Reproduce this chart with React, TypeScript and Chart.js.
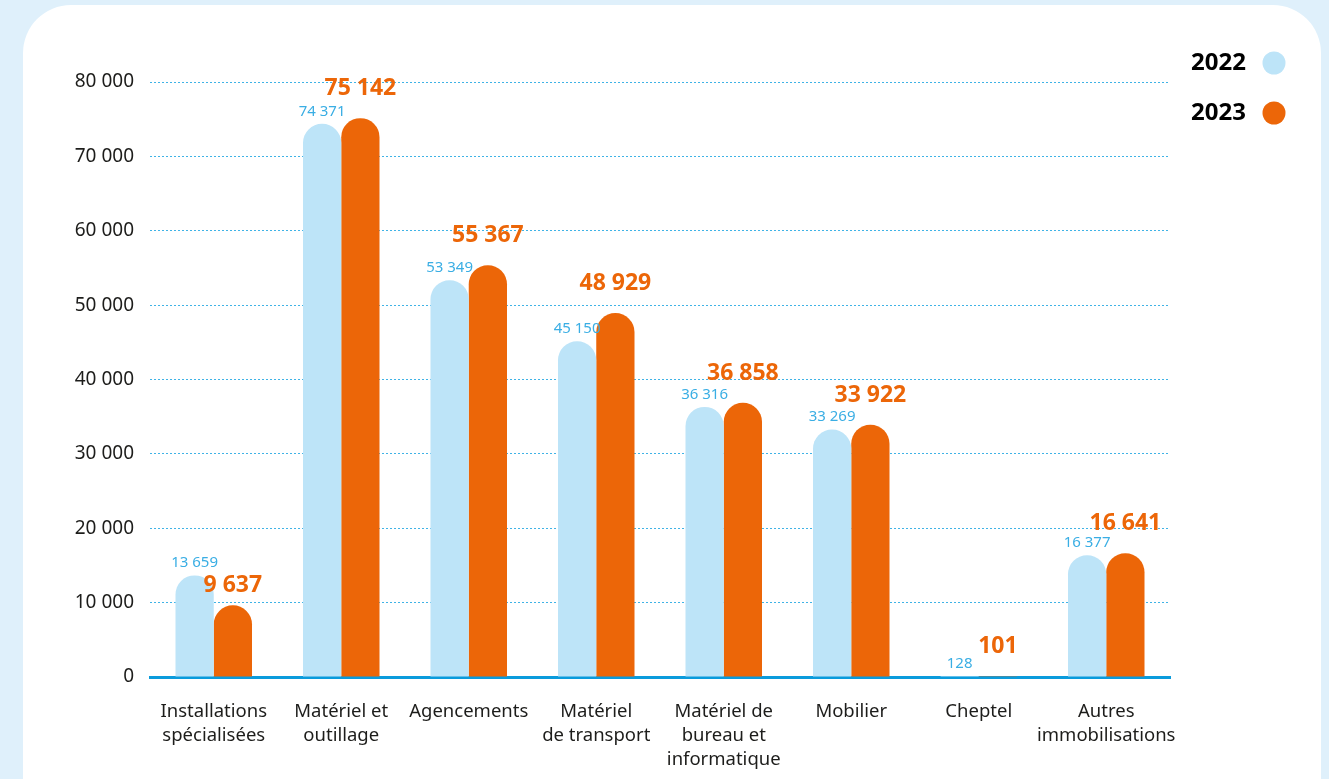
import React, { useEffect, useRef } from "react";
import { Chart, registerables } from "chart.js";

Chart.register(...registerables);

const categories: string[][] = [
  ["Installations", "spécialisées"],
  ["Matériel et", "outillage"],
  ["Agencements"],
  ["Matériel", "de transport"],
  ["Matériel de", "bureau et", "informatique"],
  ["Mobilier"],
  ["Cheptel"],
  ["Autres", "immobilisations"],
];
const values2022: number[] = [13659, 74371, 53349, 45150, 36316, 33269, 128, 16377];
const values2023: number[] = [9637, 75142, 55367, 48929, 36858, 33922, 101, 16641];
const seriesNames: string[] = ["2022", "2023"];
const yTicks: number[] = [0, 10000, 20000, 30000, 40000, 50000, 60000, 70000, 80000];

const BLUE_BAR = "#bde4f8";
const ORANGE = "#ec6608";
const BLUE_TEXT = "#3aaee4";
const GRID = "#3fb3e6";
const AXIS = "#0a9bdc";
const DARK = "#1d1d1b";
const FONT = "'Noto Sans', sans-serif";

const fmt = (v: number) => String(v).replace(/\B(?=(\d{3})+(?!\d))/g, " ");

const labelPlugin = {
  id: "valueLabels",
  afterDatasetsDraw(chart: any) {
    const ctx = chart.ctx;
    const m0 = chart.getDatasetMeta(0);
    const m1 = chart.getDatasetMeta(1);
    ctx.save();
    ctx.textAlign = "center";
    ctx.textBaseline = "bottom";
    m0.data.forEach((el: any, i: number) => {
      // 2022 label
      const f0 = 15;
      ctx.font = `400 ${f0}px ${FONT}`;
      ctx.fillStyle = BLUE_TEXT;
      const b0 = el.y - 5;
      const t0 = fmt(values2022[i]);
      const w0 = ctx.measureText(t0).width;
      ctx.fillText(t0, el.x, b0);
      const rect0 = { l: el.x - w0 / 2, r: el.x + w0 / 2, top: b0 - f0, bottom: b0 };

      // 2023 label
      const el1 = m1.data[i];
      const f1 = 23;
      ctx.font = `700 ${f1}px ${FONT}`;
      ctx.fillStyle = ORANGE;
      const t1 = fmt(values2023[i]);
      const w1 = ctx.measureText(t1).width;
      let b1 = el1.y - 18;
      const l1 = el1.x - w1 / 2;
      const r1 = el1.x + w1 / 2;
      const top1 = b1 - f1;
      if (l1 < rect0.r && r1 > rect0.l && top1 < rect0.bottom && b1 > rect0.top) {
        if (values2023[i] < values2022[i]) {
          b1 = rect0.bottom + 4 + f1;
        } else {
          b1 = rect0.top;
        }
      }
      ctx.fillText(t1, el1.x, b1);
    });
    ctx.restore();
  },
  afterDraw(chart: any) {
    const ctx = chart.ctx;
    ctx.save();
    const colors = [BLUE_BAR, ORANGE];
    seriesNames.forEach((name, i) => {
      const y = 63 + i * 50;
      ctx.font = `700 24px ${FONT}`;
      ctx.fillStyle = "#000";
      ctx.textAlign = "right";
      ctx.textBaseline = "middle";
      ctx.fillText(name, 1246, y);
      ctx.beginPath();
      ctx.arc(1274, y, 11.5, 0, Math.PI * 2);
      ctx.fillStyle = colors[i];
      ctx.fill();
    });
    ctx.restore();
  },
};

export default function App() {
  const ref = useRef<HTMLCanvasElement | null>(null);

  useEffect(() => {
    document.body.style.margin = "0";
    if (!ref.current) return;
    const chart = new Chart(ref.current, {
      type: "bar",
      data: {
        labels: categories,
        datasets: [
          {
            label: seriesNames[0],
            data: values2022,
            backgroundColor: BLUE_BAR,
            borderRadius: 19,
            borderSkipped: "start",
            categoryPercentage: 0.6,
            barPercentage: 1,
          },
          {
            label: seriesNames[1],
            data: values2023,
            backgroundColor: ORANGE,
            borderRadius: 19,
            borderSkipped: "start",
            categoryPercentage: 0.6,
            barPercentage: 1,
          },
        ],
      },
      options: {
        animation: false,
        responsive: false,
        maintainAspectRatio: false,
        layout: { padding: { left: 0, right: 159, top: 82, bottom: 0 } },
        plugins: {
          legend: { display: false },
          tooltip: { enabled: false },
        },
        scales: {
          x: {
            grid: { display: false, drawTicks: false },
            border: { display: true, color: AXIS, width: 3 },
            ticks: {
              color: DARK,
              font: { family: FONT, size: 18.5, lineHeight: 1.3 },
              padding: 23,
              maxRotation: 0,
              autoSkip: false,
            },
            afterFit: (s: any) => {
              s.height = 102;
            },
          },
          y: {
            min: 0,
            max: 80000,
            afterBuildTicks: (s: any) => {
              s.ticks = yTicks.map((v) => ({ value: v }));
            },
            grid: {
              drawTicks: false,
              color: (c: any) => (c.tick && c.tick.value === 0 ? "rgba(0,0,0,0)" : GRID),
              lineWidth: 1,
            },
            border: { display: false, dash: [2, 2] },
            ticks: {
              color: DARK,
              font: { family: FONT, size: 19 },
              padding: 16,
              callback: (v: any) => fmt(Number(v)),
            },
            afterFit: (s: any) => {
              s.width = 150;
            },
          },
        },
      },
      plugins: [labelPlugin],
    });
    return () => chart.destroy();
  }, []);

  return (
    <div
      style={{
        position: "relative",
        width: 1329,
        height: 779,
        overflow: "hidden",
        background: "#dff0fb",
      }}
    >
      <div
        style={{
          position: "absolute",
          left: 23,
          top: 5,
          width: 1298,
          height: 840,
          background: "#ffffff",
          borderRadius: 48,
        }}
      />
      <canvas
        ref={ref}
        width={1329}
        height={779}
        style={{ position: "absolute", left: 0, top: 0, width: 1329, height: 779 }}
      />
    </div>
  );
}
